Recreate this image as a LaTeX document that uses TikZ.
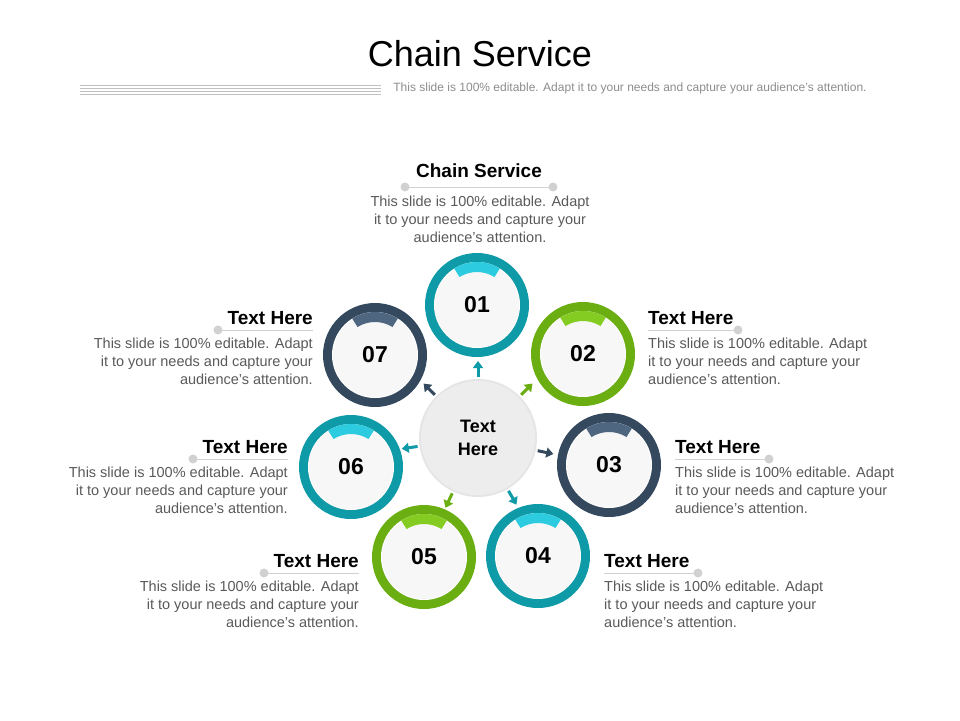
\documentclass[tikz,border=0pt]{standalone}
\usepackage{fontspec}
\setmainfont{Liberation Sans}
\usetikzlibrary{arrows.meta,shadows,calc}
\definecolor{teal}{HTML}{0E9AA7}\definecolor{tealL}{HTML}{2CCBE0}
\definecolor{grn}{HTML}{6AAE12}\definecolor{grnL}{HTML}{84CC22}
\definecolor{dk}{HTML}{34495E}\definecolor{dkL}{HTML}{4E6680}
\definecolor{bodyc}{HTML}{595959}
\tikzset{
 head/.style={font=\bfseries\fontsize{19}{21}\selectfont,inner sep=0},
 body/.style={font=\fontsize{14.5}{18}\selectfont,text=bodyc,inner sep=0},
 dotc/.style={fill=black!18,draw=none},
 num/.style={font=\bfseries\fontsize{23}{26}\selectfont},
}
\newcommand{\ring}[5]{% name, x, y, color, light
 \fill[#4] (#2,#3) circle (52);
 \fill[white,drop shadow={opacity=.25,shadow xshift=0,shadow yshift=0}] (#2,#3) circle (43);
 \fill[black!3] (#2,#3) circle (42);
 \fill[#5] ($(#2,#3)+(-58:43)$) arc (-58:-122:43) -- ($(#2,#3)+(-122:33)$) arc (-122:-58:33) -- cycle;
 \node[num] (#1) at (#2,#3+1) {};
}
\begin{document}
\begin{tikzpicture}[x=1pt,y=-1pt]
\useasboundingbox (0,0) rectangle (960,720);
\node[font=\fontsize{36}{40}\selectfont] (title) at (480,54) {Chain Service};
\node[font=\fontsize{12}{14}\selectfont,text=black!45] (sub) at (630,88) {This slide is 100\% editable. Adapt it to your needs and capture your audience's attention.};
\foreach \yy in {85,88,91,94}{\draw[black!25,line width=.8] (80,\yy) -- (381,\yy);}
% center
\fill[black!10] (478,438) circle (59);
\fill[black!7] (478,438) circle (57);
\node[font=\bfseries\fontsize{18}{23}\selectfont,align=center] (c) at (478,438) {Text\\Here};
% rings
\ring{r1}{477}{305}{teal}{tealL}
\ring{r2}{583}{354}{grn}{grnL}
\ring{r3}{609}{465}{dk}{dkL}
\ring{r4}{538}{556}{teal}{tealL}
\ring{r5}{424}{557}{grn}{grnL}
\ring{r6}{351}{467}{teal}{tealL}
\ring{r7}{375}{355}{dk}{dkL}
\foreach \n/\x/\y in {01/477/305,02/583/354,03/609/465,04/538/556,05/424/557,06/351/467,07/375/355}
 \node[num] at (\x,\y) {\n};
% arrows
\foreach \a/\col in {-90/teal,-45/grn,12/dk,60/teal,115/grn,172/teal,-135/dk}{
 \draw[\col,line width=3,-{Triangle[length=7pt,width=10pt]}] ($(478,438)+(\a:61)$) -- ($(478,438)+(\a:77)$);
}
% top block
\node[head] (h1) at (479,171) {Chain Service};
\draw[black!18] (405,187) -- (553,187);
\fill[dotc] (405,187) circle (4.5); \fill[dotc] (553,187) circle (4.5);
\node[body,align=center,anchor=north] (b1) at (480,196) {This slide is 100\% editable. Adapt\\it to your needs and capture your\\audience's attention.};
% left blocks
\foreach \nm/\x/\y/\d in {h7/313/318/218,h6/288/447/193,h5/359/561/264}{
 \node[head,anchor=east] (\nm) at (\x,\y) {Text Here};
 \draw[black!18] (\d,\y+12) -- (\x,\y+12);
 \fill[dotc] (\d,\y+12) circle (4.5);
 \node[body,align=right,anchor=north east] at (\x,\y+20) {This slide is 100\% editable. Adapt\\it to your needs and capture your\\audience's attention.};
}
\foreach \nm/\x/\y/\d in {h2/648/318/738,h3/675/447/769,h4/604/561/698}{
 \node[head,anchor=west] (\nm) at (\x,\y) {Text Here};
 \draw[black!18] (\x,\y+12) -- (\d,\y+12);
 \fill[dotc] (\d,\y+12) circle (4.5);
 \node[body,align=left,anchor=north west] at (\x,\y+20) {This slide is 100\% editable. Adapt\\it to your needs and capture your\\audience's attention.};
}
\end{tikzpicture}
\end{document}
